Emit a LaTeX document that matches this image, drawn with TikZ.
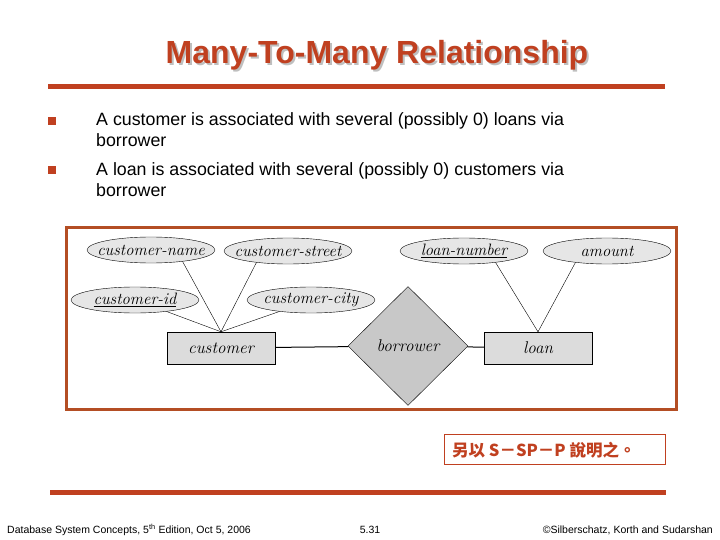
\documentclass[tikz,border=0pt]{standalone}
\usepackage{fontspec}
\usepackage{tikz}
\usepackage{xcolor}
\usetikzlibrary{positioning, shapes.geometric}
\newfontfamily\arial{Liberation Sans}
\newfontfamily\cjk{Noto Sans CJK TC}
\definecolor{slidered}{RGB}{192,64,32}
\definecolor{framered}{RGB}{180,78,36}
\definecolor{attrgray}{RGB}{230,230,230}
\definecolor{entgray}{RGB}{220,220,220}
\definecolor{relgray}{RGB}{200,200,200}
\newcommand{\titletext}{Many-To-Many Relationship}
\newcommand{\attrlabel}[1]{\makebox[0pt]{#1}}

\begin{document}
\begin{tikzpicture}[x=1pt, y=-1pt,
    attr/.style={draw, ellipse, fill=attrgray, minimum width=128pt, minimum height=26pt, inner sep=0pt, font=\fontsize{16.5}{18}\selectfont\itshape},
    entity/.style={draw, rectangle, fill=entgray, minimum width=108pt, minimum height=32pt, inner sep=0pt, font=\fontsize{17}{19}\selectfont\itshape},
    rel/.style={draw, diamond, fill=relgray, minimum width=120pt, minimum height=119pt, inner sep=0pt, font=\fontsize{17}{19}\selectfont\itshape},
    bulletsq/.style={fill=slidered, minimum size=8pt, inner sep=0pt},
    bodytext/.style={anchor=north west, align=left, inner sep=0pt, font=\arial\fontsize{17.8}{21}\selectfont},
    rule/.style={draw=slidered, line width=5pt},
    footer/.style={inner sep=0pt, font=\arial\fontsize{10.5}{12}\selectfont}]
        \useasboundingbox (0,0) rectangle (720,540);
        % title with its shadow
        \node[text=slidered, font=\arial\bfseries\fontsize{32}{36}\selectfont] (title) at (377,56)
            {\rlap{\raisebox{-2pt}{\hspace{2pt}\textcolor{black!25}{\titletext}}}\titletext};
        \draw[rule] (48,87) -- (665,87);
        % bullets
        \node[bulletsq] (b1) at (52,121) {};
        \node[bodytext] (t1) at (96,112) {A customer is associated with several (possibly 0) loans via\\borrower};
        \node[bulletsq] (b2) at (52,170) {};
        \node[bodytext] (t2) at (96,162) {A loan is associated with several (possibly 0) customers via\\borrower};
        % E-R diagram
        \draw[framered, line width=3pt] (66,228) rectangle (676,409);
        \node[attr] (cname) at (151,250) {\attrlabel{customer-name}};
        \node[attr] (cstreet) at (288,251) {\attrlabel{customer-street}};
        \node[attr] (cid) at (135,300) {\attrlabel{\underline{customer-id}}};
        \node[attr] (ccity) at (311,300) {\attrlabel{customer-city}};
        \node[attr] (lnum) at (464,251) {\attrlabel{\underline{loan-number}}};
        \node[attr] (amount) at (607,251) {\attrlabel{amount}};
        \node[entity] (customer) at (221,348) {customer};
        \node[rel] (borrower) at (408,346) {borrower};
        \node[entity] (loan) at (538,348) {loan};
        \draw (customer.north) -- (cname.-20);
        \draw (customer.north) -- (cstreet.-160);
        \draw (customer.north) -- (cid.-20);
        \draw (customer.north) -- (ccity.-160);
        \draw (loan.north) -- (lnum.-20);
        \draw (loan.north) -- (amount.-160);
        \draw[line width=1pt] (customer) -- (borrower);
        \draw[line width=1pt] (borrower) -- (loan);
        % note
        \draw[slidered] (444,434) rectangle (665,464);
        \node[anchor=west, inner sep=0pt, text=slidered, font=\cjk\bfseries\fontsize{16.5}{18}\selectfont] (note) at (452,450) {另以 S－SP－P 說明之。};
        % footer
        \draw[rule] (50,492) -- (666,492);
        \node[footer, anchor=west] (foot1) at (7,530) {Database System Concepts, 5\textsuperscript{th} Edition, Oct 5, 2006};
        \node[footer] (foot2) at (370,530) {5.31};
        \node[footer, anchor=east] (foot3) at (713,530) {\textcopyright Silberschatz, Korth and Sudarshan};
    \end{tikzpicture}
\end{document}
